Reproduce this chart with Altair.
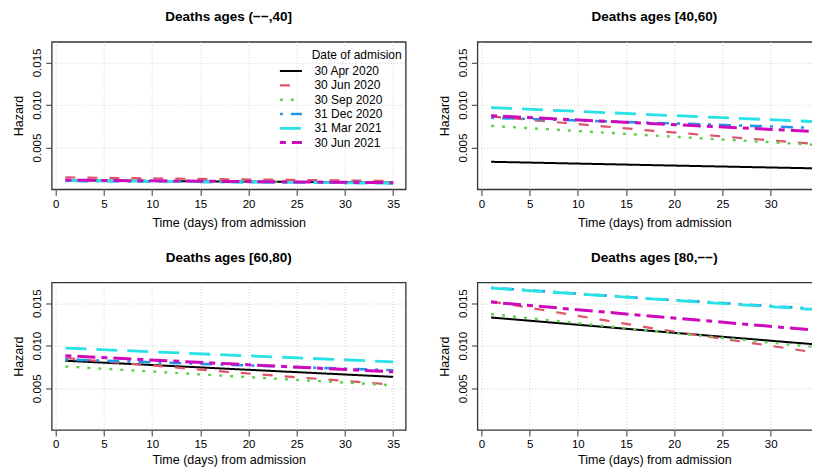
import altair as alt
import pandas as pd

# ---------------- data ----------------
days = [1, 18, 35]
series = ["30 Apr 2020", "30 Jun 2020", "30 Sep 2020", "31 Dec 2020", "31 Mar 2021", "30 Jun 2021"]
colors = ["#000000", "#DF536B", "#61D04F", "#2297E6", "#28E2E5", "#CD0BBC"]
dashes = [[1, 0], [10, 12], [3, 8], [3, 8, 12, 8], [21, 10], [6, 6, 18, 6]]
widths = [2, 3, 3, 3, 3, 3]

panel_titles = ["Deaths ages (−−,40]", "Deaths ages [40,60)", "Deaths ages [60,80)", "Deaths ages [80,−−)"]

# hazard per panel, one list per admission date (values at days 1, 18, 35)
ages_under40 = [
    [0.00115, 0.00102, 0.00090],
    [0.00150, 0.00128, 0.00108],
    [0.00120, 0.00105, 0.00090],
    [0.00108, 0.00095, 0.00082],
    [0.00112, 0.00097, 0.00082],
    [0.00118, 0.00102, 0.00088],
]
ages_40_60 = [
    [0.00333, 0.00293, 0.00255],
    [0.00866, 0.00695, 0.00539],
    [0.00755, 0.00640, 0.00530],
    [0.00850, 0.00790, 0.00730],
    [0.00970, 0.00885, 0.00803],
    [0.00874, 0.00780, 0.00686],
]
ages_60_80 = [
    [0.00823, 0.00728, 0.00634],
    [0.00854, 0.00690, 0.00543],
    [0.00756, 0.00643, 0.00535],
    [0.00838, 0.00775, 0.00712],
    [0.00972, 0.00890, 0.00811],
    [0.00882, 0.00787, 0.00693],
]
ages_80_plus = [
    [0.01331, 0.01170, 0.01012],
    [0.01520, 0.01200, 0.00914],
    [0.01370, 0.01170, 0.00980],
    [0.01680, 0.01550, 0.01430],
    [0.01676, 0.01547, 0.01422],
    [0.01512, 0.01343, 0.01179],
]
panels = [ages_under40, ages_40_60, ages_60_80, ages_80_plus]

x_ticks = [0, 5, 10, 15, 20, 25, 30, 35]
y_ticks = [0.005, 0.010, 0.015]
x_domain = [-0.42, 36.3]
y_domain = [0.0001, 0.01742]

FONT = "Liberation Sans"
W, H = 354, 147.5


def make_panel(values, title, show_legend, x_title_pad):
    rows = []
    for k, name in enumerate(series):
        for d, v in zip(days, values[k]):
            rows.append({"day": d, "hazard": v, "date": name, "order": k})
    df = pd.DataFrame(rows)

    legend = None
    if show_legend:
        legend = alt.Legend(
            title=None, orient="none", legendX=226.7, legendY=23.3,
            symbolType="stroke", symbolSize=484, symbolStrokeWidth=3,
            labelFont=FONT, labelFontSize=12, labelColor="#000000",
            labelOffset=11, clipHeight=12, rowPadding=2.3, padding=0,
        )

    lines = alt.Chart(df).mark_line(clip=True).encode(
        x=alt.X("day:Q", scale=alt.Scale(domain=x_domain, nice=False, zero=False),
                axis=alt.Axis(values=x_ticks, title="Time (days) from admission", format="d",
                              titlePadding=x_title_pad)),
        y=alt.Y("hazard:Q", scale=alt.Scale(domain=y_domain, nice=False, zero=False),
                axis=alt.Axis(values=y_ticks, title="Hazard", format=".3f", labelAngle=-90)),
        color=alt.Color("date:N", scale=alt.Scale(domain=series, range=colors), legend=legend),
        strokeDash=alt.StrokeDash("date:N", scale=alt.Scale(domain=series, range=dashes), legend=legend),
        strokeWidth=alt.StrokeWidth("date:N", scale=alt.Scale(domain=series, range=widths), legend=None),
        detail="order:O",
    )
    layers = [lines]
    if show_legend:
        ttl = pd.DataFrame({"day": [26.55], "hazard": [0.01585], "label": ["Date of admision"]})
        layers.append(
            alt.Chart(ttl).mark_text(align="left", baseline="middle", font=FONT, fontSize=12, color="#000000")
            .encode(x="day:Q", y="hazard:Q", text="label:N")
        )
    return alt.layer(*layers).properties(
        width=W, height=H,
        title=alt.TitleParams(title, fontSize=13.5, fontWeight="bold", font=FONT, color="#000000",
                              anchor="middle", offset=18),
    )


charts = [make_panel(v, t, i == 0, 7 if i < 2 else 3)
          for i, (v, t) in enumerate(zip(panels, panel_titles))]

chart = alt.concat(*charts, columns=2, spacing={"row": 92.7, "column": 71.7}, bounds="flush").configure(
    padding={"left": 3.7, "top": 0.8, "right": -21, "bottom": 0},
).configure_view(
    stroke="#333333", strokeWidth=1.3,
).configure_axis(
    domain=False, grid=True, gridColor="#d3d3d3", gridDash=[1, 2], gridWidth=1,
    tickColor="#333333", tickSize=6, tickWidth=1,
    labelFont=FONT, labelFontSize=11.5, labelColor="#000000", labelPadding=3,
    titleFont=FONT, titleFontSize=12.5, titleFontWeight="normal", titleColor="#000000",
    labelOverlap=False,
).configure_axisX(labelFlush=False).configure_axisY(titlePadding=6)

chart.save("out.html", embed_options={"renderer": "svg", "actions": False})
